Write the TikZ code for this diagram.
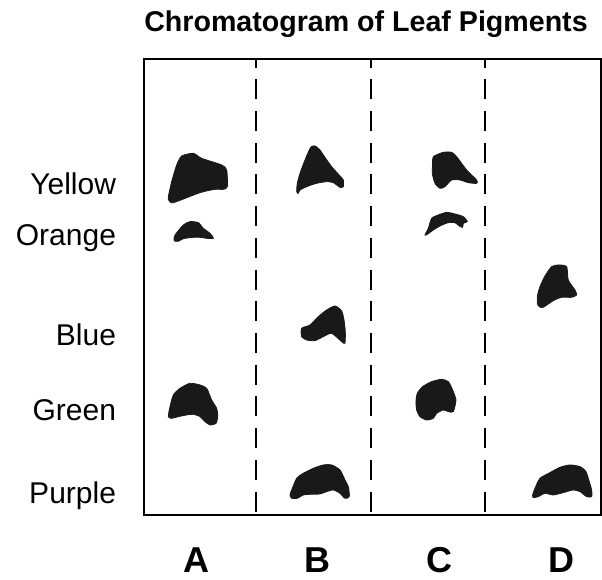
\documentclass[tikz,border=0pt]{standalone}
\usepackage{fontspec}
\setmainfont{Liberation Sans}
\usepackage{tikz}
\usetikzlibrary{positioning}

\begin{document}
\begin{tikzpicture}[
            x=1pt, y=-1pt,
            titletext/.style={font=\fontsize{28.6}{34}\selectfont\bfseries, anchor=base},
            rowtext/.style={font=\fontsize{30}{36}\selectfont, anchor=base east},
            lanetext/.style={font=\fontsize{36}{42}\selectfont\bfseries, anchor=base},
            lanesep/.style={line width=2.7pt, dash pattern=on 20pt off 11.7pt, dash phase=11.3pt},
            spot/.style={fill=black!90, draw=black!90, line width=0.8pt},
            ]
            \useasboundingbox (0,0) rectangle (602,580);

            \node[titletext] (title) at (366,32) {Chromatogram of Leaf Pigments};

            % paper strip and lanes
            \coordinate (tl) at (144,59);
            \coordinate (br) at (601,515);
            \draw[line width=2.5pt] (tl) rectangle (br);
            \draw[lanesep] (256,59) -- (256,515);
            \draw[lanesep] (371,59) -- (371,515);
            \draw[lanesep] (485,59) -- (485,515);

            \node[rowtext] (yellow) at (119.5,194) {Yellow};
            \node[rowtext] (orange) at (119.5,245) {Orange};
            \node[rowtext] (blue)   at (119.5,345) {Blue};
            \node[rowtext] (green)  at (119.5,420) {Green};
            \node[rowtext] (purple) at (119.5,503) {Purple};

            \node[lanetext] (laneA) at (196,572) {A};
            \node[lanetext] (laneB) at (317,572) {B};
            \node[lanetext] (laneC) at (439,572) {C};
            \node[lanetext] (laneD) at (561,572) {D};

            % pigment spots
            \begin{scope}[shift={(140pt,-50pt)}, x=0.3333pt, y=-0.3333pt]
            % lane A
            \filldraw[spot] plot[smooth cycle, tension=0.4] coordinates {(85,440) (95,395) (110,345) (125,318) (160,310) (185,325) (245,345) (260,360) (262,410) (250,418) (225,418) (180,428) (100,458) (86,450)};
            \filldraw[spot] plot[smooth cycle, tension=0.4] coordinates {(102,570) (105,555) (130,525) (150,515) (175,518) (190,535) (210,550) (220,565) (200,565) (180,562) (160,562) (130,566) (115,574) (103,573)};
            \filldraw[spot] plot[smooth cycle, tension=0.4] coordinates {(85,1100) (90,1070) (100,1035) (120,1015) (150,1000) (180,1005) (200,1015) (215,1050) (230,1075) (233,1100) (228,1120) (210,1125) (195,1115) (180,1100) (160,1093) (140,1095) (115,1100) (95,1105)};
            % lane B
            \filldraw[spot] plot[smooth cycle, tension=0.4] coordinates {(470,425) (472,400) (480,370) (495,330) (512,292) (525,288) (540,300) (550,315) (575,350) (600,378) (610,390) (610,410) (600,412) (580,398) (560,395) (530,400) (505,408) (480,420) (475,430)};
            \filldraw[spot] plot[smooth cycle, tension=0.4] coordinates {(485,835) (485,860) (500,870) (525,872) (550,860) (575,850) (605,875) (615,880) (616,845) (612,810) (605,783) (585,768) (560,780) (535,800) (510,825)};
            \filldraw[spot] plot[smooth cycle, tension=0.4] coordinates {(450,1335) (455,1320) (470,1285) (490,1270) (520,1255) (550,1245) (575,1245) (600,1260) (615,1290) (625,1310) (628,1340) (615,1345) (600,1330) (580,1320) (560,1325) (540,1332) (510,1333) (490,1335) (472,1345) (455,1345)};
            % lane C
            \filldraw[spot] plot[smooth cycle, tension=0.4] coordinates {(880,320) (910,307) (935,307) (950,320) (980,360) (1010,390) (1010,400) (985,398) (960,390) (935,390) (915,410) (900,415) (885,400) (877,370) (878,340)};
            \filldraw[spot] plot[smooth cycle, tension=0.4] coordinates {(855,555) (865,535) (875,505) (895,495) (920,487) (945,492) (970,500) (982,515) (970,520) (968,532) (958,528) (945,518) (925,518) (900,528) (880,540) (862,553)};
            \filldraw[spot] plot[smooth cycle, tension=0.4] coordinates {(828,1055) (832,1030) (848,1010) (875,995) (905,988) (925,995) (938,1020) (948,1050) (940,1085) (925,1085) (910,1080) (890,1090) (880,1105) (860,1110) (840,1100) (830,1080)};
            % lane D
            \filldraw[spot] plot[smooth cycle, tension=0.4] coordinates {(1192,760) (1193,735) (1200,710) (1215,678) (1235,650) (1255,645) (1280,650) (1285,690) (1305,720) (1310,735) (1295,742) (1265,742) (1240,752) (1210,772) (1198,770)};
            \filldraw[spot] plot[smooth cycle, tension=0.4] coordinates {(1178,1335) (1185,1315) (1200,1285) (1230,1268) (1260,1252) (1290,1245) (1320,1250) (1338,1265) (1348,1295) (1355,1320) (1355,1340) (1340,1340) (1320,1325) (1300,1320) (1270,1328) (1240,1335) (1215,1330) (1195,1340) (1180,1343)};
            \end{scope}
        \end{tikzpicture}
\end{document}
